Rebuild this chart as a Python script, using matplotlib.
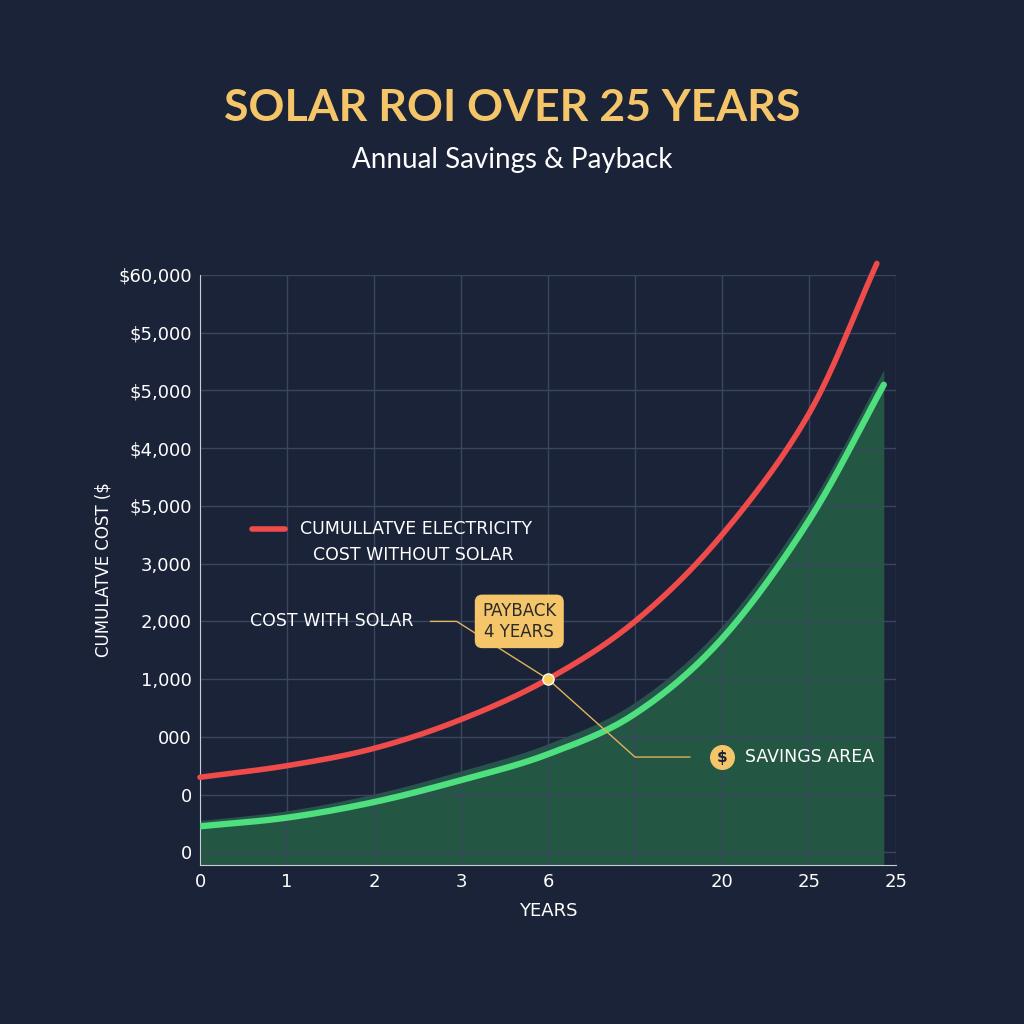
import matplotlib
matplotlib.use("Agg")
import matplotlib.pyplot as plt
import numpy as np

x_ticks = [0, 1, 2, 3, 4, 5, 6, 7, 8]
x_labels = ["0", "1", "2", "3", "6", "", "20", "25", "25"]
y_ticks = list(range(11))
y_labels = ["0", "0", "000", "1,000", "2,000", "3,000", "$5,000", "$4,000", "$5,000", "$5,000", "$60,000"]

red_x = [0, 1, 2, 3, 4, 5, 6, 7, 7.78]
red_y = [1.3, 1.5, 1.8, 2.3, 3.0, 4.0, 5.5, 7.6, 10.2]
green_x = [0, 1, 2, 3, 4, 5, 6, 7, 7.86]
green_y = [0.45, 0.6, 0.87, 1.25, 1.7, 2.4, 3.7, 5.75, 8.1]


def smooth(px, py, n=20):
    px, py = np.asarray(px, float), np.asarray(py, float)
    P = np.column_stack([px, py])
    P = np.vstack([2*P[0]-P[1], P, 2*P[-1]-P[-2]])
    out = []
    for i in range(1, len(P)-2):
        p0, p1, p2, p3 = P[i-1], P[i], P[i+1], P[i+2]
        for t in np.linspace(0, 1, n, endpoint=False):
            out.append(0.5*((2*p1) + (-p0+p2)*t + (2*p0-5*p1+4*p2-p3)*t**2 + (-p0+3*p1-3*p2+p3)*t**3))
    out.append(P[-2])
    out = np.array(out)
    return out[:, 0], out[:, 1]


bg = "#1b2338"
fig = plt.figure(figsize=(10.24, 10.24), dpi=100, facecolor=bg)
ax = fig.add_axes([200/1024, 1-865/1024, 696/1024, 590/1024], facecolor=bg)

rx, ry = smooth(red_x, red_y)
gx, gy = smooth(green_x, green_y)

ax.fill_between(gx, -0.25, gy, color="#2a7a4c", alpha=0.6, lw=0, zorder=1)
ax.fill_between(gx, gy, gy + 0.1 + 0.02*gx, color="#3aa066", alpha=0.4, lw=0, zorder=1)
ax.plot(rx, ry, color="#ef4b4b", lw=4, solid_capstyle="round", zorder=4, clip_on=False)
ax.plot(gx, gy, color="#4ee07e", lw=4.5, solid_capstyle="round", zorder=4)

ax.set_xlim(0, 8)
ax.set_ylim(-0.22, 10.0)
ax.set_xticks(x_ticks)
ax.set_xticklabels(x_labels)
ax.set_yticks(y_ticks)
ax.set_yticklabels(y_labels)
ax.grid(True, color="#3a4560", lw=1)
for s in ["top", "right"]:
    ax.spines[s].set_visible(False)
ax.spines["left"].set_color("#c8ccd6")
ax.spines["bottom"].set_color("#c8ccd6")
ax.tick_params(colors="white", labelsize=13, length=0, pad=6)
ax.set_xlabel("YEARS", color="white", fontsize=13, labelpad=8)
ax.set_ylabel("CUMULATVE COST ($", color="white", fontsize=12, labelpad=4)

# legend
ax.plot([0.6, 0.98], [5.6, 5.6], color="#ef4b4b", lw=4, solid_capstyle="round", zorder=5)
ax.text(1.15, 5.6, "CUMULLATVE ELECTRICITY", color="white", fontsize=12.5, va="center")
ax.text(1.3, 5.15, "COST WITHOUT SOLAR", color="white", fontsize=12.5, va="center")
ax.text(0.57, 4.0, "COST WITH SOLAR", color="white", fontsize=12.5, va="center")
ax.plot([2.65, 2.95, 4.0], [4.0, 4.0, 3.0], color="#e0b45a", lw=1)

# payback
ax.annotate("PAYBACK\n4 YEARS", xy=(4.0, 3.0), xytext=(3.67, 4.0), color="#2a2a2a",
            fontsize=12, ha="center", va="center",
            bbox=dict(boxstyle="round,pad=0.4", fc="#f5c56a", ec="#f5c56a"))
ax.plot([4.0], [3.0], "o", color="#f7d060", ms=8, mec="white", mew=1, zorder=6)
ax.plot([4.0, 5.0, 5.63], [3.0, 1.65, 1.65], color="#e0b45a", lw=1, zorder=5)
ax.plot([6.0], [1.65], "o", color="#f5c56a", ms=17, zorder=6)
ax.text(6.0, 1.65, "$", color="#1b2338", fontsize=11, ha="center", va="center", zorder=7, fontweight="bold")
ax.text(6.27, 1.65, "SAVINGS AREA", color="white", fontsize=12.5, va="center")

fig.text(0.5, 1-108/1024, "SOLAR ROI OVER 25 YEARS", color="#f5c56a", fontsize=32,
         fontweight="bold", ha="center", va="center", family="Lato")
fig.text(0.5, 1-160/1024, "Annual Savings & Payback", color="white", fontsize=20,
         ha="center", va="center", family="Lato")

fig.savefig("out.png", dpi=100, facecolor=bg)
